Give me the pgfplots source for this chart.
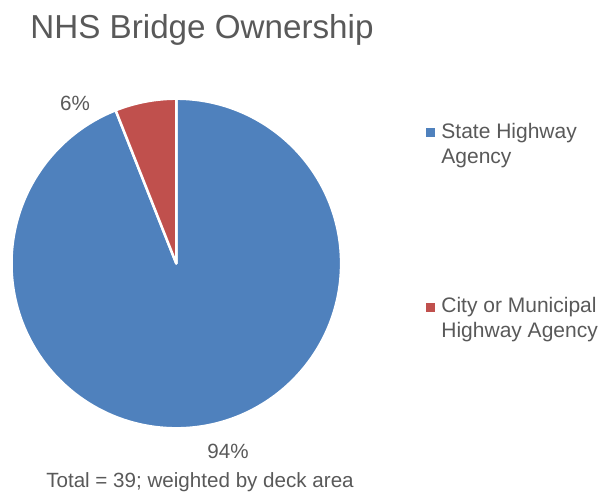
\documentclass[border=0pt]{standalone}
\usepackage{pgfplots}
\pgfplotsset{compat=1.18}
\usepackage{pgfplotstable}
\usepackage{fontspec}
\setmainfont{Liberation Sans}

\definecolor{sliceblue}{HTML}{4F81BD}
\definecolor{slicered}{HTML}{C0504D}
\definecolor{txt}{HTML}{595959}

% share of deck area, in percent
\pgfplotstableread{
owner value
State 94
City 6
}\ownership

\begin{document}
\begin{tikzpicture}[x=0.5pt,y=-0.5pt]
\useasboundingbox (0,0) rectangle (613,498);

\pgfplotstablegetelem{0}{value}\of\ownership \let\vstate\pgfplotsretval
\pgfplotstablegetelem{1}{value}\of\ownership \let\vcity\pgfplotsretval
\pgfmathsetmacro\aend{90-3.6*\vstate}
\pgfmathsetmacro\bend{\aend-3.6*\vcity}

\begin{axis}[
    at={(88.15pt,-131.75pt)}, anchor=center,
    x=82pt, y=82pt,
    xmin=-1, xmax=1, ymin=-1, ymax=1,
    hide axis, clip=false,
]
% state highway agency (first slice, clockwise from 12 o'clock)
\filldraw[fill=sliceblue, draw=white, line width=1.25pt, line join=round]
    (axis cs:0,0) -- ++(90:82.4pt) arc[start angle=90, end angle=\aend, radius=82.4pt] -- cycle;
% city or municipal
\filldraw[fill=slicered, draw=white, line width=1.25pt, line join=round]
    (axis cs:0,0) -- ++(\aend:82.4pt) arc[start angle=\aend, end angle=\bend, radius=82.4pt] -- cycle;
\end{axis}

% title and labels
\node[anchor=base west, inner sep=0pt, text=txt, font=\fontsize{16.6}{20}\selectfont]
    at (30,38) {NHS Bridge Ownership};
\node[anchor=base, inner sep=0pt, text=txt, font=\fontsize{10.3}{12}\selectfont]
    at (75,110) {\vcity\%};
\node[anchor=base, inner sep=0pt, text=txt, font=\fontsize{10.3}{12}\selectfont]
    at (228,458) {\vstate\%};
\node[anchor=base, inner sep=0pt, text=txt, font=\fontsize{10.3}{12}\selectfont]
    at (200,487) {Total = 39; weighted by deck area};

% legend
\fill[sliceblue] (426,128) rectangle (435,137);
\node[anchor=base west, inner sep=0pt, text=txt, font=\fontsize{10.5}{12}\selectfont]
    at (441,138) {State Highway};
\node[anchor=base west, inner sep=0pt, text=txt, font=\fontsize{10.5}{12}\selectfont]
    at (441,163) {Agency};
\fill[slicered] (426,303) rectangle (435,312);
\node[anchor=base west, inner sep=0pt, text=txt, font=\fontsize{10.5}{12}\selectfont]
    at (441,312) {City or Municipal};
\node[anchor=base west, inner sep=0pt, text=txt, font=\fontsize{10.5}{12}\selectfont]
    at (441,337) {Highway Agency};
\end{tikzpicture}
\end{document}
